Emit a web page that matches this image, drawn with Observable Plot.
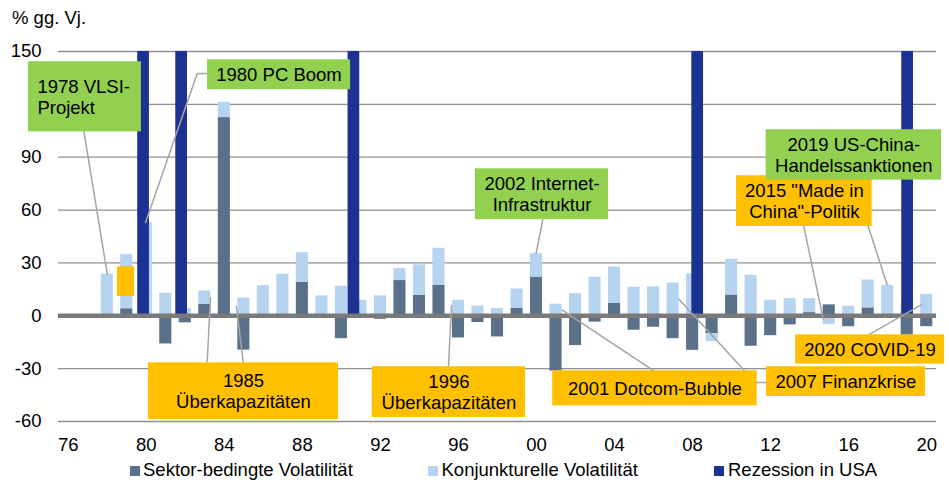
<!DOCTYPE html>
<html>
<head>
<meta charset="utf-8">
<script src="https://cdn.jsdelivr.net/npm/d3@7"></script>
<script src="https://cdn.jsdelivr.net/npm/@observablehq/plot@0.6"></script>
<style>
  body { margin: 0; background: #fff; font-family: "Liberation Sans", Arial, sans-serif; color: #000; }
  #wrap { position: relative; width: 949px; height: 480px; overflow: hidden; }
  #title { position: absolute; left: 12px; top: 7px; font-size: 18.5px; line-height: 22px; }
  #chart { position: absolute; left: 0; top: 30px; }
  .lg-sw { position: absolute; top: 466px; width: 10px; height: 10px; }
  .lg-tx { position: absolute; top: 459px; font-size: 18.5px; line-height: 22px; white-space: nowrap; }
</style>
</head>
<body>
<div id="wrap">
  <div id="title">% gg. Vj.</div>
  <div id="chart"></div>
  <div id="legend"></div>
</div>
<script>
// ---- Data ----
const years = [1976,1977,1978,1979,1980,1981,1982,1983,1984,1985,1986,1987,1988,1989,1990,1991,1992,1993,1994,1995,1996,1997,1998,1999,2000,2001,2002,2003,2004,2005,2006,2007,2008,2009,2010,2011,2012,2013,2014,2015,2016,2017,2018,2019,2020];
const sektor = [0,0,0,4,0,-16,-4,6.5,112.5,-19.5,0,0,19,0,-13,0,-2,20,11.7,17.2,-12.6,-3.8,-12,4.3,22,-31.4,-16.9,-3.6,7,-8.2,-6.5,-13,-19.6,-10.1,11.8,-17.3,-11.3,-5.2,1.8,6.2,-6.2,4.5,0,-11,-6.2];
const konjunktur = [0,0,23.6,30.7,52.8,12.8,4,7.6,8.7,10.1,17.1,23.6,16.8,11.3,16.8,8.8,11.3,6.8,17.2,21.1,8.8,5.6,4.1,10.9,13.3,6.6,12.6,21.9,20.7,16.2,16.4,18.6,23.8,-4.5,20.3,23,8.8,9.7,7.9,-5,5.4,15.8,17.3,7.3,12.2];
const rezession = [1979.86, 1981.81, 1990.64, 2008.26, 2019.02];
const rezessionTop = 150;
const seriesNames = ["Sektor-bedingte Volatilität", "Konjunkturelle Volatilität", "Rezession in USA"];
const yTicks = [-60, -30, 0, 30, 60, 90, 120, 150];
const yTickHidden = [120]; // covered by the annotation box in the original
const xTicks = [1976, 1980, 1984, 1988, 1992, 1996, 2000, 2004, 2008, 2012, 2016, 2020];

// Annotation boxes (in data coordinates: year / % gg. Vj.)
const notes = [
  {text: "1978 VLSI-\nProjekt", kind: "green", x1: 1973.96, x2: 1979.75, y1: 104.4, y2: 144.2, tx: 1974.42, ty: 124.3, anchor: "start"},
  {text: "1980 PC Boom", kind: "green", x1: 1983.14, x2: 1990.47, y1: 128.3, y2: 145.3, tx: 1986.80, ty: 136.8, anchor: "middle"},
  {text: "1985\nÜberkapazitäten", kind: "orange", x1: 1980.11, x2: 1989.85, y1: -58.9, y2: -26.7, tx: 1984.98, ty: -42.8, anchor: "middle"},
  {text: "1996\nÜberkapazitäten", kind: "orange", x1: 1991.58, x2: 1999.44, y1: -57.7, y2: -28.9, tx: 1995.51, ty: -43.3, anchor: "middle"},
  {text: "2002 Internet-\nInfrastruktur", kind: "green", x1: 1996.87, x2: 2003.69, y1: 54.5, y2: 83.4, tx: 2000.28, ty: 69.0, anchor: "middle"},
  {text: "2001 Dotcom-Bubble", kind: "orange", x1: 2000.83, x2: 2011.31, y1: -51.1, y2: -31.2, tx: 2006.07, ty: -41.1, anchor: "middle"},
  {text: "2007 Finanzkrise", kind: "orange", x1: 2011.79, x2: 2019.94, y1: -45.8, y2: -28.9, tx: 2015.86, ty: -37.4, anchor: "middle"},
  {text: "2020 COVID-19", kind: "orange", x1: 2013.28, x2: 2020.91, y1: -27.4, y2: -10.8, tx: 2017.09, ty: -19.1, anchor: "middle"},
  {text: "2015 \"Made in\nChina\"-Politik", kind: "orange", x1: 2010.25, x2: 2017.20, y1: 50.7, y2: 79.5, tx: 2013.73, ty: 65.1, anchor: "middle"},
  {text: "2019 US-China-\nHandelssanktionen", kind: "green", x1: 2011.77, x2: 2020.76, y1: 77.0, y2: 105.6, tx: 2016.26, ty: 91.3, anchor: "middle"},
  {text: "", kind: "orange", x1: 1978.52, x2: 1979.40, y1: 10.95, y2: 27.8, tx: 1979, ty: 19, anchor: "middle"}
];
// Leader lines (year, value) point lists
const leaders = [
  [[1976.80, 104.6], [1978.00, 23.7]],
  [[1983.14, 137.5], [1982.61, 137.5], [1979.96, 52.95]],
  [[1983.12, -26.5], [1983.29, 10.4]],
  [[1984.97, -26.5], [1984.62, 5.1]],
  [[1995.49, -28.7], [1995.64, 5.7]],
  [[2000.32, 54.5], [1999.98, 35.4]],
  [[2001.32, 3.2], [2006.01, -31.2]],
  [[2007.29, 9.5], [2011.21, -37.9], [2011.79, -37.9]],
  [[2017.08, -10.4], [2019.72, 6.2]],
  [[2016.23, 77.0], [2017.97, 17.6]],
  [[2013.70, 50.7], [2014.69, -1.7]]
];

// ---- Styles ----
const colDark = "#5b7189";
const colLight = "#b6d3ef";
const colNavy = "#1b3292";
const colGreen = "#92d050";
const colOrange = "#ffc000";
const FONT = "Liberation Sans, Arial, sans-serif";
const FS = 18.5;

const long = [];
years.forEach((y, i) => long.push({year: y, series: seriesNames[0], value: sektor[i]}));
years.forEach((y, i) => long.push({year: y, series: seriesNames[1], value: konjunktur[i]}));
const leaderPts = leaders.flatMap((pts, id) => pts.map(([x, y]) => ({id, x, y})));
const halfBar = 0.31;
const halfRez = 0.30;

const stacked = Plot.stackY({
  x1: d => d.year - halfBar,
  x2: d => d.year + halfBar,
  y: "value",
  z: "series",
  fill: "series"
});
delete stacked.x;

const chart = Plot.plot({
  width: 949,
  height: 425,
  marginLeft: 58,
  marginRight: 13,
  marginTop: 21,
  marginBottom: 34,
  style: {fontFamily: FONT, fontSize: FS + "px", color: "#000", background: "transparent", overflow: "visible"},
  x: {type: "linear", domain: [1975.5, 2020.5], ticks: xTicks, tickFormat: d => String(d % 100).padStart(2, "0"), tickSize: 0, tickPadding: 16, label: null},
  y: {domain: [-60, 150], ticks: yTicks, tickFormat: d => yTickHidden.includes(d) ? "" : String(d), tickSize: 0, tickPadding: 17, label: null},
  color: {domain: seriesNames.slice(0, 2), range: [colDark, colLight]},
  marks: [
    Plot.ruleY(yTicks, {stroke: "#909090", strokeWidth: 1.3}),
    Plot.rect(long, stacked),
    Plot.rect(rezession, {x1: d => d - halfRez, x2: d => d + halfRez, y1: 0, y2: rezessionTop, fill: colNavy}),
    Plot.ruleY([0], {stroke: "#7a7a7a", strokeWidth: 4.6}),
    Plot.line(leaderPts, {x: "x", y: "y", z: "id", stroke: "#a5a5a5", strokeWidth: 1.5}),
    Plot.rect(notes.filter(d => d.kind === "orange"), {x1: "x1", x2: "x2", y1: "y1", y2: "y2", fill: colOrange}),
    Plot.rect(notes.filter(d => d.kind === "green"), {x1: "x1", x2: "x2", y1: "y1", y2: "y2", fill: colGreen}),
    Plot.text(notes.filter(d => d.anchor === "middle" && d.text), {x: "tx", y: "ty", text: "text", textAnchor: "middle", lineHeight: 1.13, fontSize: FS, fill: "#000"}),
    Plot.text(notes.filter(d => d.anchor === "start" && d.text), {x: "tx", y: "ty", text: "text", textAnchor: "start", lineHeight: 1.13, fontSize: FS, fill: "#000"})
  ]
});
document.getElementById("chart").appendChild(chart);

// ---- Legend ----
const legendItems = [
  {label: seriesNames[0], color: colDark, sw: 130, tx: 143},
  {label: seriesNames[1], color: colLight, sw: 428, tx: 441.5},
  {label: seriesNames[2], color: colNavy, sw: 714, tx: 728}
];
const lg = document.getElementById("legend");
legendItems.forEach(it => {
  const s = document.createElement("div");
  s.className = "lg-sw"; s.style.left = it.sw + "px"; s.style.background = it.color;
  const t = document.createElement("div");
  t.className = "lg-tx"; t.style.left = it.tx + "px"; t.textContent = it.label;
  lg.appendChild(s); lg.appendChild(t);
});
</script>
</body>
</html>
